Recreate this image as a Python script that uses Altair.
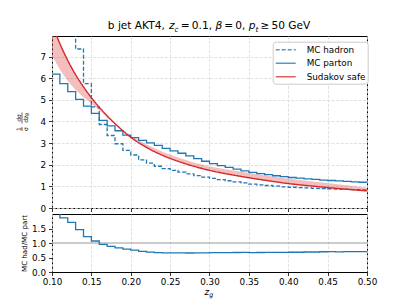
import altair as alt
import pandas as pd

# ---------------- data ----------------
bin_edges = [round(0.10 + 0.01 * i, 2) for i in range(41)]

mc_parton = [6.19, 5.75, 5.38, 5.02, 4.71, 4.37, 4.05, 3.80, 3.57, 3.37,
             3.25, 3.13, 3.01, 2.89, 2.76, 2.64, 2.53, 2.41, 2.28, 2.16,
             2.05, 1.96, 1.88, 1.80, 1.72, 1.65, 1.59, 1.54, 1.49, 1.45,
             1.41, 1.38, 1.35, 1.32, 1.29, 1.27, 1.25, 1.23, 1.21, 1.19]

mc_hadron = [14.5, 10.75, 9.20, 7.35, 5.75, 4.67, 3.86, 3.35, 2.97, 2.66,
             2.45, 2.22, 2.07, 1.93, 1.82, 1.74, 1.66, 1.58, 1.50, 1.43,
             1.37, 1.31, 1.26, 1.21, 1.16, 1.10, 1.07, 1.04, 1.01, 0.98,
             0.96, 0.94, 0.93, 0.91, 0.90, 0.89, 0.87, 0.86, 0.85, 0.84]

sud_z = [0.10, 0.11, 0.12, 0.13, 0.14, 0.15, 0.16, 0.17, 0.18, 0.19, 0.20,
         0.22, 0.24, 0.26, 0.28, 0.30, 0.32, 0.34, 0.36, 0.38, 0.40,
         0.42, 0.44, 0.46, 0.48, 0.50]
sud_central = [8.50, 7.60, 6.82, 6.16, 5.60, 5.10, 4.66, 4.26, 3.90, 3.57, 3.27,
               2.80, 2.44, 2.16, 1.93, 1.74, 1.59, 1.46, 1.34, 1.23, 1.13,
               1.05, 0.98, 0.91, 0.85, 0.79]
sud_low = [7.04, 6.40, 5.87, 5.45, 5.12, 4.83, 4.52, 4.18, 3.88, 3.57, 3.27,
           2.80, 2.44, 2.16, 1.93, 1.74, 1.59, 1.46, 1.34, 1.23, 1.13,
           1.05, 0.98, 0.91, 0.85, 0.79]
sud_high = [8.50, 7.60, 6.82, 6.16, 5.60, 5.10, 4.66, 4.26, 3.92, 3.61, 3.34,
            2.94, 2.60, 2.33, 2.10, 1.92, 1.79, 1.67, 1.56, 1.46, 1.36,
            1.27, 1.19, 1.11, 1.03, 0.94]

x_ticks = [0.10, 0.15, 0.20, 0.25, 0.30, 0.35, 0.40, 0.45, 0.50]
y_ticks_top = [0, 1, 2, 3, 4, 5, 6, 7]
y_ticks_ratio = [0.0, 0.5, 1.0, 1.5]
series_names = ["MC hadron", "MC parton", "Sudakov safe"]

# ---------------- tables ----------------
def step_table(vals, name):
    return pd.DataFrame({"zg": bin_edges, "v": list(vals) + [vals[-1]], "series": name})

hist_df = pd.concat([step_table(mc_hadron, "MC hadron"),
                     step_table(mc_parton, "MC parton")], ignore_index=True)
sud_df = pd.DataFrame({"zg": sud_z, "c": sud_central, "lo": sud_low,
                       "hi": sud_high, "series": "Sudakov safe"})
ratio_vals = [h / p for h, p in zip(mc_hadron, mc_parton)]
ratio_df = step_table(ratio_vals, "ratio")
one = pd.DataFrame({"k": [0]})

FONT = "DejaVu Sans"
BLUE = "#1f77b4"
RED = "#d62728"

xscale = alt.Scale(domain=[0.1, 0.5], nice=False, zero=False)
ytop = alt.Scale(domain=[0, 7.95], nice=False)
yrat = alt.Scale(domain=[0, 2.0], nice=False)
cscale = alt.Scale(domain=series_names, range=[BLUE, BLUE, RED])
dscale = alt.Scale(domain=series_names, range=[[4, 2], [1, 0], [1, 0]])

ax_x_top = alt.Axis(values=x_ticks, labels=False, title=None)
ax_y_top = alt.Axis(values=y_ticks_top, format="d", title=None)
ax_x_rat = alt.Axis(values=x_ticks, format=".2f", title=None, labelFlush=False,
                    labelPadding=2)
ax_y_rat = alt.Axis(values=y_ticks_ratio, format=".1f", title="MC had/MC part",
                    titlePadding=4, titleFontSize=7.1)

leg = alt.Legend(title=None, orient="none", legendX=220.7, legendY=5.7,
                 symbolType="M-2,0H2", symbolSize=100, symbolStrokeWidth=1.6,
                 symbolOpacity=0.75, symbolOffset=5,
                 labelFontSize=8.8, labelFont=FONT,
                 labelColor="black", labelOffset=15, rowPadding=2.5,
                 padding=2, fillColor="white", strokeColor="#cccccc",
                 cornerRadius=3)

x_top = alt.X("zg:Q", scale=xscale, axis=ax_x_top)

band = alt.Chart(sud_df).mark_area(clip=True, color=RED, opacity=0.3).encode(
    x=x_top,
    y=alt.Y("lo:Q", scale=ytop, axis=ax_y_top),
    y2="hi:Q",
)
hist = alt.Chart(hist_df).mark_line(interpolate="step-after", clip=True,
                                    strokeWidth=1.3).encode(
    x=x_top,
    y=alt.Y("v:Q", scale=ytop, axis=ax_y_top),
    color=alt.Color("series:N", scale=cscale, legend=leg),
    strokeDash=alt.StrokeDash("series:N", scale=dscale, legend=leg),
)
sud_line = alt.Chart(sud_df).mark_line(clip=True, strokeWidth=1.4,
                                       interpolate="monotone").encode(
    x=x_top,
    y=alt.Y("c:Q", scale=ytop, axis=ax_y_top),
    color=alt.Color("series:N", scale=cscale, legend=leg),
    strokeDash=alt.StrokeDash("series:N", scale=dscale, legend=leg),
)

# text pieces (mathtext-like)
def txt(t, x, y, size=10.6, style="normal", angle=0, align="left", baseline="alphabetic"):
    return alt.Chart(one).mark_text(text=t, font=FONT, fontSize=size, fontStyle=style,
                                    align=align, baseline=baseline, angle=angle,
                                    color="black").encode(x=alt.value(x), y=alt.value(y))

TB = -6.7
SB = -4.4
title_parts = [
    txt("b jet AKT4,", 55.8, TB),
    txt("z", 117.1, TB, style="italic"),
    txt("c", 122.6, SB, size=7.4, style="italic"),
    txt("=", 128.8, TB),
    txt("0.1,", 139.8, TB),
    txt("β", 163.4, TB, style="italic"),
    txt("=", 172.2, TB),
    txt("0,", 183.2, TB),
    txt("p", 196.7, TB, style="italic"),
    txt("t", 203.4, SB, size=7.4, style="italic"),
    txt("≥", 208.4, TB),
    txt("50 GeV", 219.4, TB),
]
# y-axis label 1/σ dσ/dz_g as rotated stacked fractions
ylab_parts = [
    txt("1", -33.5, 93, size=6, angle=270, align="center", baseline="middle"),
    txt("σ", -26.5, 93, size=6, angle=270, align="center", baseline="middle"),
    txt("dσ", -33.5, 82, size=6, angle=270, align="center", baseline="middle"),
    txt("dz", -26.5, 83.3, size=6, angle=270, align="center", baseline="middle"),
    txt("g", -25, 78.5, size=4.5, angle=270, align="center", baseline="middle"),
    alt.Chart(one).mark_rule(color="black", strokeWidth=0.6).encode(
        x=alt.value(-30), y=alt.value(91), y2=alt.value(95)),
    alt.Chart(one).mark_rule(color="black", strokeWidth=0.6).encode(
        x=alt.value(-30), y=alt.value(76.5), y2=alt.value(87.5)),
]

top = alt.layer(band, hist, sud_line, *title_parts, *ylab_parts).properties(
    width=315, height=172)

ratio_line = alt.Chart(ratio_df).mark_line(interpolate="step-after", clip=True,
                                           strokeWidth=1.3, color=BLUE).encode(
    x=alt.X("zg:Q", scale=xscale, axis=ax_x_rat),
    y=alt.Y("v:Q", scale=yrat, axis=ax_y_rat),
)
unity = alt.Chart(one).mark_rule(color="#999999", strokeWidth=1).encode(
    y=alt.YDatum(1.0, scale=yrat, axis=ax_y_rat))
xlab_parts = [
    txt("z", 152.5, 80.5, size=8.8, style="italic"),
    txt("g", 157.3, 82.8, size=6.3, style="italic"),
]
bottom = alt.layer(unity, ratio_line, *xlab_parts).properties(width=315, height=58)

chart = alt.vconcat(top, bottom, spacing=6, bounds="flush").properties(
    padding={"left": 7, "top": 12, "right": 5, "bottom": 5}
).configure(font=FONT).configure_view(stroke="black", strokeWidth=1).configure_axis(
    labelFont=FONT, labelFontSize=8.8, labelColor="black", labelOverlap=False,
    tickColor="black", tickSize=3.5, tickWidth=0.8, labelPadding=3,
    domain=False, gridColor="#d9d9d9", gridOpacity=0.8, gridDash=[3, 1.5],
    titleFont=FONT, titleFontSize=8.8, titleFontWeight="normal", titleColor="black",
).configure_legend(orient="none")

chart.save("out.html", embed_options={"renderer": "svg", "actions": False})
